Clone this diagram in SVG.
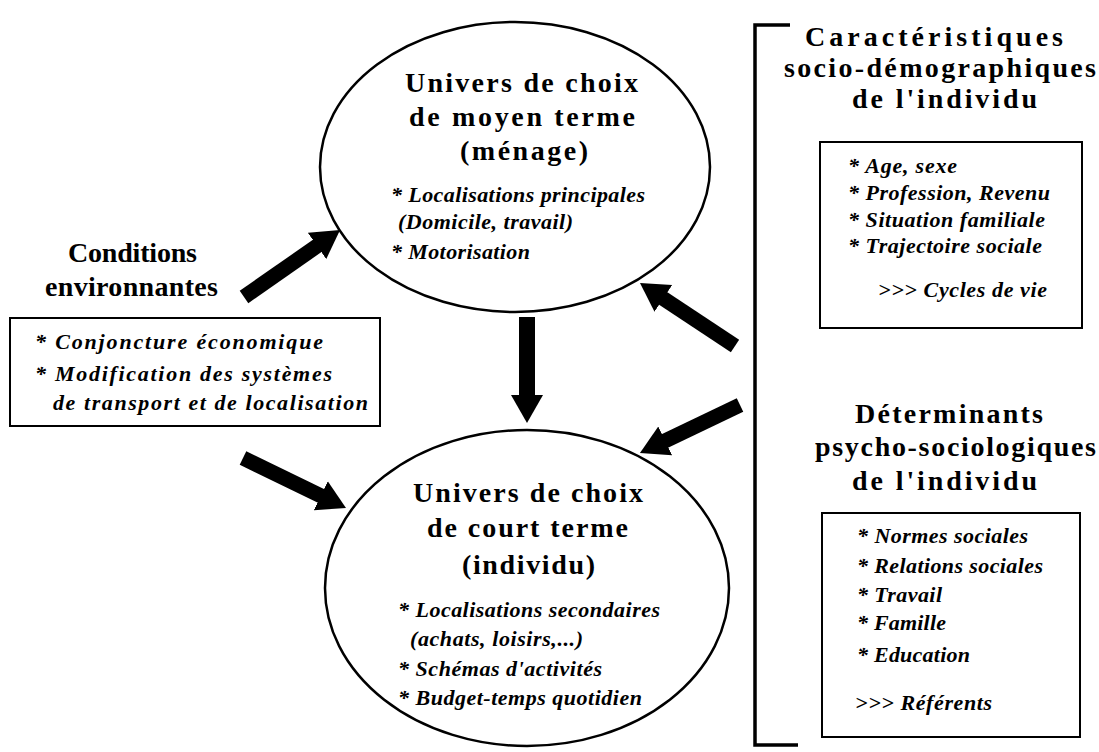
<svg xmlns="http://www.w3.org/2000/svg" width="1099" height="752" viewBox="0 0 1099 752">
<defs>
<style>
.h{font-family:"Liberation Serif","Times New Roman",serif;font-weight:bold;font-size:28px;fill:#000}
.b{font-family:"Liberation Serif","Times New Roman",serif;font-weight:bold;font-style:italic;font-size:22px;fill:#000}
.bl{font-family:"Liberation Serif","Times New Roman",serif;font-weight:bold;font-style:italic;font-size:22px;fill:#000}
.ell{fill:none;stroke:#000;stroke-width:2.5}
.box{fill:none;stroke:#000;stroke-width:2}
.arr{stroke:#000;stroke-width:15;fill:none;marker-end:url(#head)}
</style>
<marker id="head" viewBox="0 -17 30 34" refX="1" refY="0" markerWidth="30" markerHeight="34" markerUnits="userSpaceOnUse" orient="auto">
<path d="M0,-16 L28,0 L0,16 z" fill="#000"/>
</marker>
</defs>
<rect width="1099" height="752" fill="#fff"/>

<g id="moyen-terme">
<ellipse class="ell" cx="515" cy="167" rx="195" ry="145"/>
<text class="h" x="405" y="92" textLength="233" lengthAdjust="spacing">Univers de choix</text>
<text class="h" x="409" y="126" textLength="226" lengthAdjust="spacing">de moyen terme</text>
<text class="h" x="460" y="160" textLength="128" lengthAdjust="spacing">(ménage)</text>
<text class="b" x="391" y="202" textLength="254" lengthAdjust="spacing">* Localisations principales</text>
<text class="b" x="398" y="229" textLength="175" lengthAdjust="spacing">(Domicile, travail)</text>
<text class="b" x="391" y="259" textLength="139" lengthAdjust="spacing">* Motorisation</text>
</g>

<g id="court-terme">
<ellipse class="ell" cx="527" cy="588" rx="202" ry="158"/>
<text class="h" x="413" y="502" textLength="230" lengthAdjust="spacing">Univers de choix</text>
<text class="h" x="427" y="537" textLength="201" lengthAdjust="spacing">de court terme</text>
<text class="h" x="462" y="574" textLength="133" lengthAdjust="spacing">(individu)</text>
<text class="b" x="398" y="617" textLength="262" lengthAdjust="spacing">* Localisations secondaires</text>
<text class="b" x="410" y="646" textLength="173" lengthAdjust="spacing">(achats, loisirs,...)</text>
<text class="b" x="398" y="676" textLength="204" lengthAdjust="spacing">* Schémas d'activités</text>
<text class="b" x="398" y="705" textLength="244" lengthAdjust="spacing">* Budget-temps quotidien</text>
</g>

<g id="conditions">
<text class="h" x="68" y="262" textLength="129" lengthAdjust="spacing">Conditions</text>
<text class="h" x="45" y="296" textLength="173" lengthAdjust="spacing">environnantes</text>
<rect class="box" x="10" y="318" width="370" height="108"/>
<text class="bl" x="35" y="349" textLength="288" lengthAdjust="spacing">* Conjoncture économique</text>
<text class="bl" x="35" y="381" textLength="297" lengthAdjust="spacing">* Modification des systèmes</text>
<text class="bl" x="53" y="410" textLength="315" lengthAdjust="spacing">de transport et de localisation</text>
</g>

<g id="socio-demographiques">
<text class="h" x="805" y="46" textLength="258" lengthAdjust="spacing">Caractéristiques</text>
<text class="h" x="784" y="77" textLength="312" lengthAdjust="spacing">socio-démographiques</text>
<text class="h" x="852" y="108" textLength="185" lengthAdjust="spacing">de l'individu</text>
<rect class="box" x="820" y="142" width="262" height="186"/>
<text class="b" x="848" y="173" textLength="109" lengthAdjust="spacing">* Age, sexe</text>
<text class="b" x="848" y="200" textLength="202" lengthAdjust="spacing">* Profession, Revenu</text>
<text class="b" x="848" y="227" textLength="197" lengthAdjust="spacing">* Situation familiale</text>
<text class="b" x="848" y="253" textLength="194" lengthAdjust="spacing">* Trajectoire sociale</text>
<text class="b" x="878" y="297" textLength="169" lengthAdjust="spacing">&gt;&gt;&gt; Cycles de vie</text>
</g>

<g id="psycho-sociologiques">
<text class="h" x="855" y="423" textLength="188" lengthAdjust="spacing">Déterminants</text>
<text class="h" x="815" y="456" textLength="281" lengthAdjust="spacing">psycho-sociologiques</text>
<text class="h" x="852" y="490" textLength="185" lengthAdjust="spacing">de l'individu</text>
<rect class="box" x="822" y="513" width="258" height="224"/>
<text class="b" x="857" y="543" textLength="171" lengthAdjust="spacing">* Normes sociales</text>
<text class="b" x="857" y="573" textLength="186" lengthAdjust="spacing">* Relations sociales</text>
<text class="b" x="857" y="602" textLength="85" lengthAdjust="spacing">* Travail</text>
<text class="b" x="857" y="630" textLength="89" lengthAdjust="spacing">* Famille</text>
<text class="b" x="857" y="662" textLength="113" lengthAdjust="spacing">* Education</text>
<text class="b" x="855" y="710" textLength="137" lengthAdjust="spacing">&gt;&gt;&gt; Référents</text>
</g>

<g id="bracket">
<path d="M790,25 L755,25 L755,745 L798,745" fill="none" stroke="#000" stroke-width="3.5"/>
</g>

<g id="connectors">
<line class="arr" x1="244" y1="297" x2="317.9" y2="245.4"/>
<line class="arr" x1="527" y1="317" x2="527" y2="396" style="stroke-width:16"/>
<line class="arr" x1="243" y1="458" x2="321.7" y2="496.2"/>
<line class="arr" x1="735" y1="346" x2="662.5" y2="297.9"/>
<line class="arr" x1="740" y1="405" x2="664.3" y2="441.3"/>
</g>
</svg>
